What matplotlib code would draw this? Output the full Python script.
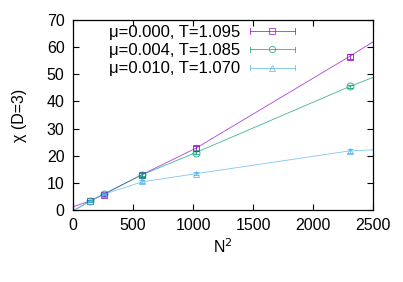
import matplotlib
matplotlib.use("Agg")
import matplotlib.pyplot as plt
from matplotlib.lines import Line2D
from matplotlib.legend_handler import HandlerLine2D

plt.rcParams['font.family'] = ['Liberation Sans', 'DejaVu Sans']

# data
N2 = [144, 256, 576, 1024, 2304]
labels = ["μ=0.000, T=1.095", "μ=0.004, T=1.085", "μ=0.010, T=1.070"]
chi_mu0 = [3.3, 5.7, 13.0, 22.7, 56.5]
chi_mu4 = [3.3, 5.9, 13.0, 21.2, 45.6]
chi_mu10 = [3.2, 5.8, 10.6, 13.4, 21.7]
err_mu0 = [0.4, 0.4, 0.8, 1.0, 1.0]
err_mu4 = [0.3, 0.4, 0.6, 0.6, 0.6]
err_mu10 = [0.3, 0.3, 0.6, 0.5, 0.8]
# fitted curves
fit_x = [0, 144, 256, 576, 1024, 2304, 2500]
fit_mu0 = [1.2, 3.4, 5.8, 13.1, 22.8, 56.6, 62.0]
fit_mu4 = [-0.3, 3.3, 5.9, 13.0, 21.2, 45.5, 48.9]
fit_mu10 = [-0.3, 3.3, 5.8, 10.4, 13.4, 21.8, 22.2]

colors = ["#9400d3", "#009e73", "#56b4e9"]
markers = ["s", "o", "^"]

fig = plt.figure(figsize=(4.03, 2.82), dpi=100)
ax = fig.add_axes([0.181, 0.255, 0.745, 0.674])

series = [(chi_mu0, err_mu0, fit_mu0), (chi_mu4, err_mu4, fit_mu4), (chi_mu10, err_mu10, fit_mu10)]
for (y, e, f), c, m in zip(series, colors, markers):
    ax.plot(fit_x, f, color=c, lw=0.6, alpha=0.75)
    ax.errorbar(N2, y, yerr=e, fmt=m, mfc='none', mec=c, ecolor=c, ms=5, mew=0.7,
                elinewidth=0.7, capsize=2, capthick=0.7, alpha=0.8)


class HandlerCaps(HandlerLine2D):
    def create_artists(self, legend, orig_handle, xdescent, ydescent, width, height, fontsize, trans):
        arts = super().create_artists(legend, orig_handle, xdescent, ydescent, width, height, fontsize, trans)
        yc = height / 2 - ydescent
        c = orig_handle.get_color()
        for xx in (-xdescent, -xdescent + width):
            arts.append(Line2D([xx, xx], [yc - 2.0, yc + 2.0], color=c, lw=0.7, alpha=0.7, transform=trans))
        return arts


handles = [Line2D([], [], color=c, marker=m, mfc='none', mec=c, ms=4.5, mew=0.7, lw=0.7, alpha=0.7)
           for c, m in zip(colors, markers)]
leg = ax.legend(handles, labels, loc='upper left', bbox_to_anchor=(0.097, 1.01), frameon=False,
                markerfirst=False, handlelength=2.7, handletextpad=0.6, labelspacing=0.2,
                fontsize=12, borderaxespad=0, handler_map={Line2D: HandlerCaps(numpoints=1)})

ax.set_xlim(0, 2500)
ax.set_ylim(0, 70)
ax.set_xticks(range(0, 2501, 500))
ax.set_yticks(range(0, 71, 10))
ax.tick_params(direction='in', top=True, right=True, labelsize=11.5, length=4, width=0.8, pad=6)
for s in ax.spines.values():
    s.set_linewidth(0.9)
ax.set_xlabel("N$^2$", fontsize=11.5, labelpad=3)
ax.set_ylabel("χ (D=3)", fontsize=11.5, labelpad=14)

fig.savefig("out.png", dpi=100)
